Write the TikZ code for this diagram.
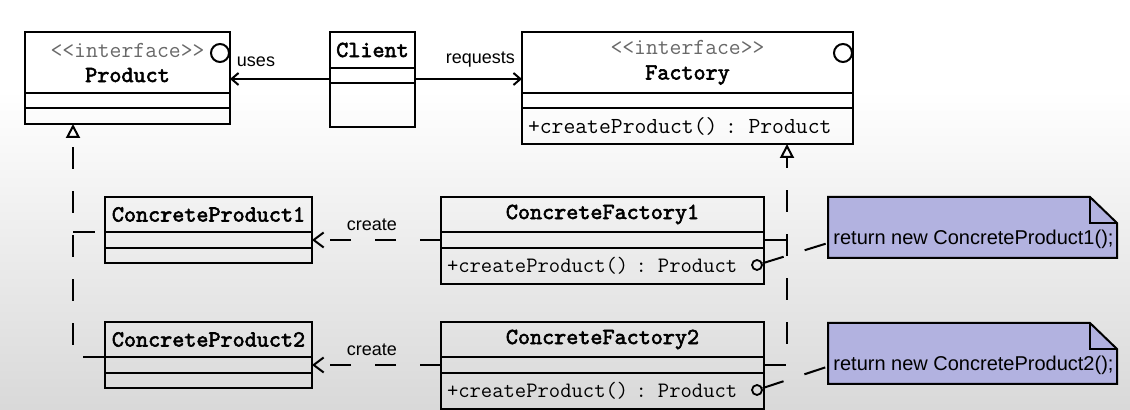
\documentclass[tikz,border=0pt]{standalone}
\usepackage{fontspec}
\setmainfont{Liberation Sans}
\setsansfont{Liberation Sans}
\newfontface\clsbold{lmmono10-regular.otf}[FakeBold=2.5]
\usetikzlibrary{positioning,arrows.meta}
\definecolor{notefill}{RGB}{178,178,224}
\definecolor{stereo}{RGB}{105,105,105}

\begin{document}
\begin{tikzpicture}[x=0.5pt,y=-0.5pt]
\tikzstyle{cname}=[draw,line width=1pt,inner sep=0pt,outer sep=0pt,anchor=north west,align=center,font=\ttfamily\fontsize{11.5pt}{12.5pt}\selectfont]
\tikzstyle{cpart}=[draw,line width=1pt,inner sep=0pt,outer sep=0pt]
\tikzstyle{ops}=[draw,line width=1pt,inner ysep=0pt,inner xsep=3pt,outer sep=0pt,align=left]
\tikzstyle{lolly}=[draw,circle,line width=1pt,inner sep=0pt,minimum size=9pt]
\tikzstyle{dot}=[draw,circle,line width=0.9pt,inner sep=0pt,minimum size=5pt]
\tikzstyle{note}=[inner sep=0pt,outer sep=0pt,anchor=north west,minimum width=144.5pt,minimum height=30.5pt]
\tikzstyle{notebox}=[draw,fill=notefill,line width=1pt,line join=miter]
\tikzstyle{notetext}=[inner sep=0pt,anchor=base west,font=\sffamily\fontsize{10pt}{12pt}\selectfont]
\tikzstyle{lbl}=[inner sep=3pt,font=\sffamily\fontsize{9pt}{10pt}\selectfont]
\tikzstyle{assoc}=[line width=1pt,-{Straight Barb[length=3.5pt,width=6pt]}]
\tikzstyle{dep}=[line width=1pt,dash pattern=on 10.5pt off 12pt,-{Straight Barb[length=5pt,width=7.5pt]}]
\tikzstyle{realline}=[line width=1pt,dash pattern=on 11pt off 11pt]
\tikzstyle{real}=[realline,-{Triangle[open,length=7pt,width=7pt]}]
\tikzstyle{notelink}=[line width=1pt,dash pattern=on 11pt off 11pt]

% background
\fill[white] (0,0) rectangle (1130,92);
\shade[top color=white,bottom color=gray!30] (0,90) rectangle (1130,410);
\useasboundingbox (0,0) rectangle (1130,410);

% interfaces and client
\node[cname,minimum width=102.5pt,minimum height=30.5pt] (productName) at (25,32) {\textcolor{stereo}{<{}<interface>{}>}\\{\clsbold Product}};
\node[cpart,minimum width=102.5pt,minimum height=7.5pt,below=0pt of productName] (productAttr) {};
\node[cpart,minimum width=102.5pt,minimum height=8pt,below=0pt of productAttr] (productOp) {};
\node[lolly] (productIf) at (220,53) {};

\node[cname,minimum width=42.5pt,minimum height=18pt] (clientName) at (330,32) {\clsbold Client};
\node[cpart,minimum width=42.5pt,minimum height=7.5pt,below=0pt of clientName] (clientAttr) {};
\node[cpart,minimum width=42.5pt,minimum height=22pt,below=0pt of clientAttr] (clientOp) {};

\node[cname,minimum width=165.5pt,minimum height=30.5pt] (factoryName) at (522,32) {\textcolor{stereo}{<{}<interface>{}>}\\{\clsbold Factory}};
\node[cpart,minimum width=165.5pt,minimum height=7.5pt,below=0pt of factoryName] (factoryAttr) {};
\node[ops,text width=159.5pt,minimum height=18pt,below=0pt of factoryAttr,font=\ttfamily\fontsize{11.5pt}{12pt}\selectfont] (factoryOp) {+createProduct() : Product};
\node[lolly] (factoryIf) at (843,53) {};

% concrete products
\node[cname,minimum width=103.5pt,minimum height=17.5pt] (cp1Name) at (105,197) {\clsbold ConcreteProduct1};
\node[cpart,minimum width=103.5pt,minimum height=8pt,below=0pt of cp1Name] (cp1Attr) {};
\node[cpart,minimum width=103.5pt,minimum height=7.5pt,below=0pt of cp1Attr] (cp1Op) {};

\node[cname,minimum width=103.5pt,minimum height=17.5pt] (cp2Name) at (105,322) {\clsbold ConcreteProduct2};
\node[cpart,minimum width=103.5pt,minimum height=8pt,below=0pt of cp2Name] (cp2Attr) {};
\node[cpart,minimum width=103.5pt,minimum height=7.5pt,below=0pt of cp2Attr] (cp2Op) {};

% concrete factories
\node[cname,minimum width=161.5pt,minimum height=17.5pt] (cf1Name) at (441,197) {\clsbold ConcreteFactory1};
\node[cpart,minimum width=161.5pt,minimum height=8pt,below=0pt of cf1Name] (cf1Attr) {};
\node[ops,text width=155.5pt,minimum height=18pt,below=0pt of cf1Attr,font=\ttfamily\fontsize{11pt}{12pt}\selectfont] (cf1Op) {+createProduct() : Product};
\node[dot] (cf1Dot) at (757,265) {};

\node[cname,minimum width=161.5pt,minimum height=17.5pt] (cf2Name) at (441,322) {\clsbold ConcreteFactory2};
\node[cpart,minimum width=161.5pt,minimum height=8pt,below=0pt of cf2Name] (cf2Attr) {};
\node[ops,text width=155.5pt,minimum height=18pt,below=0pt of cf2Attr,font=\ttfamily\fontsize{11pt}{12pt}\selectfont] (cf2Op) {+createProduct() : Product};
\node[dot] (cf2Dot) at (757,390) {};

% notes
\node[note] (note1) at (828,197) {};
\filldraw[notebox] (note1.south west) -- (note1.north west) -- ([xshift=-13.5pt]note1.north east) -- ([yshift=-13pt]note1.north east) -- (note1.south east) -- cycle;
\draw[line width=1pt] ([xshift=-13.5pt]note1.north east) |- ([yshift=-13pt]note1.north east);
\node[notetext] (note1Text) at ([xshift=2.5pt,yshift=6.5pt]note1.south west) {return new ConcreteProduct1();};

\node[note] (note2) at (828,323) {};
\filldraw[notebox] (note2.south west) -- (note2.north west) -- ([xshift=-13.5pt]note2.north east) -- ([yshift=-13pt]note2.north east) -- (note2.south east) -- cycle;
\draw[line width=1pt] ([xshift=-13.5pt]note2.north east) |- ([yshift=-13pt]note2.north east);
\node[notetext] (note2Text) at ([xshift=2.5pt,yshift=6.5pt]note2.south west) {return new ConcreteProduct2();};

% associations
\draw[assoc] ([yshift=-1.75pt]clientAttr.west) -- node[lbl,above=2.5pt,pos=0.74] {uses} ([yshift=-1.75pt]clientAttr.west -| productName.east);
\draw[assoc] ([yshift=-1.75pt]clientAttr.east) -- node[lbl,above=2.5pt,pos=0.61] {requests} ([yshift=-1.75pt]clientAttr.east -| factoryName.west);

% realizations
\coordinate (prodTip) at ([xshift=24pt]productOp.south west);
\coordinate (factTip) at ([xshift=132.5pt]factoryOp.south west);
\draw[real] (cp2Name.south west) -| (prodTip);
\draw[realline] (prodTip |- cp1Name.south west) -- (cp1Name.south west);
\draw[real] (cf2Attr.east) -| (factTip);
\draw[realline] (cf1Attr.east) -- (cf1Attr.east -| factTip);

% create
\draw[dep] (cf1Attr.west) -- node[lbl,above=1pt,pos=0.535] {create} (cp1Attr.east);
\draw[dep] (cf2Attr.west) -- node[lbl,above=1pt,pos=0.535] {create} (cp2Attr.east);

% note links
\draw[notelink] (cf1Dot) -- ([yshift=-7.75pt]note1.west);
\draw[notelink] (cf2Dot) -- ([yshift=-6.5pt]note2.west);
\end{tikzpicture}
\end{document}
